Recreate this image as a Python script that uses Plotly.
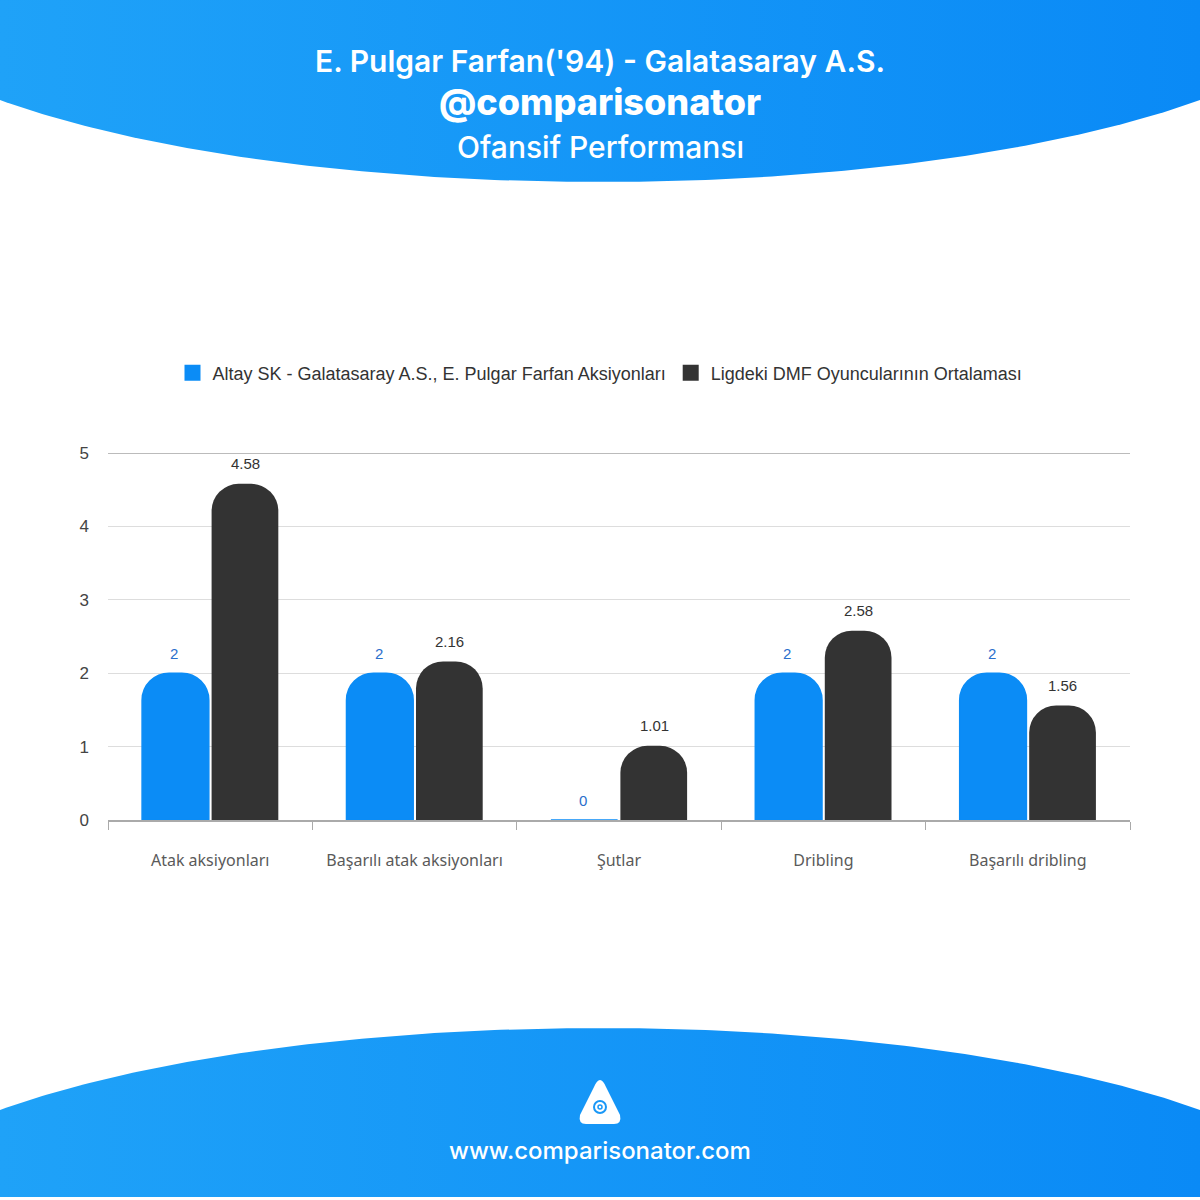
import numpy as np
import plotly.graph_objects as go

categories = ["Atak aksiyonları", "Başarılı atak aksiyonları", "Şutlar", "Dribling", "Başarılı dribling"]
player_values = [2, 2, 0, 2, 2]
league_values = [4.58, 2.16, 1.01, 2.58, 1.56]
player_name = "Altay SK - Galatasaray A.S., E. Pulgar Farfan Aksiyonları"
league_name = "Ligdeki DMF Oyuncularının Ortalaması"
y_ticks = [0, 1, 2, 3, 4, 5]

W = H = 1200
BLUE = "#0b8cf6"
DARK = "#333333"

fig = go.Figure()

# ---- decorative header / footer (pixel space on x2/y2) ----
xs = np.linspace(0, W, 200)
a, b = 760.0, 212.0
hdr_y = 182 - b + b * np.sqrt(1 - ((xs - 600) / a) ** 2)
hx = np.concatenate([[0], xs, [W, 0]])
hy = np.concatenate([[0], hdr_y, [0, 0]])
grad = dict(type="horizontal", colorscale=[[0, "#1fa2f8"], [1, "#0a8af6"]])
fig.add_trace(go.Scatter(x=hx, y=hy, xaxis="x2", yaxis="y2", mode="lines",
                         line=dict(width=0), fill="toself", fillgradient=grad,
                         hoverinfo="skip", showlegend=False))
ftr_y = 1028 + b - b * np.sqrt(1 - ((xs - 600) / a) ** 2)
fx = np.concatenate([[0], xs, [W, 0]])
fy = np.concatenate([[1197], ftr_y, [1197, 1197]])
fig.add_trace(go.Scatter(x=fx, y=fy, xaxis="x2", yaxis="y2", mode="lines",
                         line=dict(width=0), fill="toself", fillgradient=grad,
                         hoverinfo="skip", showlegend=False))

# ---- bars ----
fig.add_trace(go.Bar(x=categories, y=player_values, name=player_name, showlegend=False,
                     marker=dict(color=BLUE, cornerradius=27, line=dict(width=1.5, color=BLUE))))
fig.add_trace(go.Bar(x=categories, y=league_values, name=league_name, showlegend=False,
                     marker=dict(color=DARK, cornerradius=27, line=dict(width=0))))

# legend entries with larger square swatches
for nm, col in [(player_name, BLUE), (league_name, DARK)]:
    fig.add_trace(go.Scatter(x=[None], y=[None], mode="markers", name=nm,
                             marker=dict(symbol="square", size=17, color=col)))

annotations = []
for c, v in zip(categories, player_values):
    annotations.append(dict(x=c, y=v, xref="x", yref="y", text=f"{v:g}", showarrow=False,
                            xshift=-36, yshift=20, font=dict(family="Liberation Sans", size=15, color="#2a6fcc")))
for c, v in zip(categories, league_values):
    annotations.append(dict(x=c, y=v, xref="x", yref="y", text=f"{v:g}", showarrow=False,
                            xshift=35, yshift=20, font=dict(family="Liberation Sans", size=15, color="#333333")))

# header / footer texts
title_font = "Inter"
annotations += [
    dict(x=0.5, y=1 - 61 / H, xref="paper", yref="paper", yanchor="middle", text="E. Pulgar Farfan('94) - Galatasaray A.S.",
         showarrow=False, font=dict(family=title_font, size=30, color="white", weight=600)),
    dict(x=0.5, y=1 - 102 / H, xref="paper", yref="paper", yanchor="middle", text="@comparisonator",
         showarrow=False, font=dict(family=title_font, size=36, color="white", weight=800)),
    dict(x=0.5, y=1 - 147 / H, xref="paper", yref="paper", yanchor="middle", text="Ofansif Performansı",
         showarrow=False, font=dict(family=title_font, size=30, color="white", weight=500)),
    dict(x=0.5, y=1 - 1150 / H, xref="paper", yref="paper", yanchor="middle", text="www.comparisonator.com",
         showarrow=False, font=dict(family=title_font, size=24, color="white", weight=500)),
]

shapes = [
    # logo (simple triangle emblem)
    dict(type="path", xref="x2", yref="y2",
         path="M600,1080 Q603,1080 606,1087 L620,1115 Q622,1124 614,1124 L586,1124 Q578,1124 580,1115 L594,1087 Q597,1080 600,1080 Z",
         fillcolor="white", line=dict(width=0), layer="above"),
    dict(type="circle", xref="x2", yref="y2", x0=594, x1=606, y0=1101, y1=1113,
         fillcolor="rgba(0,0,0,0)", line=dict(color="#1a98f7", width=2), layer="above"),
    dict(type="circle", xref="x2", yref="y2", x0=598, x1=602, y0=1105, y1=1109,
         fillcolor="rgba(0,0,0,0)", line=dict(color="#1a98f7", width=1.5), layer="above"),
]

fig.update_layout(
    width=W, height=H, autosize=False,
    margin=dict(l=0, r=0, t=0, b=0, pad=0, autoexpand=False),
    paper_bgcolor="white", plot_bgcolor="rgba(0,0,0,0)",
    barmode="group", bargap=0.32, bargroupgap=0.04,
    showlegend=True,
    legend=dict(orientation="h", x=0.5, xanchor="center", y=1 - 373 / H, yanchor="middle",
                font=dict(family="Liberation Sans", size=18, color="#333333"),
                itemwidth=30, bgcolor="rgba(0,0,0,0)", traceorder="normal"),
    annotations=annotations,
    shapes=shapes,
    xaxis=dict(domain=[108 / W, 1130 / W], showline=True, linecolor="#aaaaaa", linewidth=2,
               ticks="outside", tickson="boundaries", ticklen=8, tickcolor="#aaaaaa",
               tickfont=dict(family="Noto Sans", size=16, color="#5a5a5a"),
               ticklabelstandoff=25, showgrid=False, fixedrange=True, automargin=False),
    yaxis=dict(domain=[1 - 820 / H, 1 - 453 / H], range=[0, 5], tickvals=y_ticks,
               showgrid=True, gridcolor="#dddddd", gridwidth=1, zeroline=False,
               tickfont=dict(family="Liberation Sans", size=17, color="#444444"),
               ticklabelstandoff=18, showline=False, fixedrange=True, automargin=False),
    xaxis2=dict(domain=[0, 1], range=[0, W], visible=False, anchor="y2", fixedrange=True, automargin=False),
    yaxis2=dict(domain=[0, 1], range=[H, 0], visible=False, anchor="x2", fixedrange=True, automargin=False),
)

# darker top grid line at 5
fig.add_shape(type="line", xref="paper", yref="y", x0=108 / W, x1=1130 / W, y0=5, y1=5,
              line=dict(color="#bbbbbb", width=2), layer="below")

fig.write_html("out.html", config={"displayModeBar": False},
               post_script="document.body.style.margin='0';document.body.style.overflow='hidden';")
